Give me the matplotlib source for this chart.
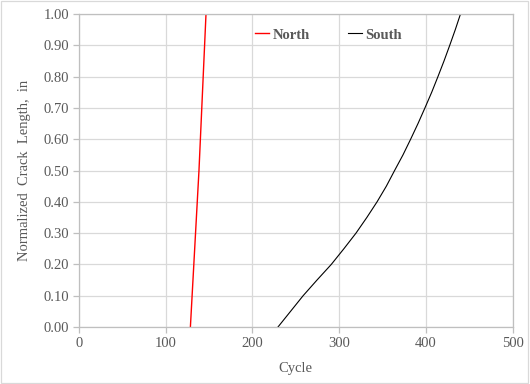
import matplotlib
matplotlib.use("Agg")
import matplotlib.pyplot as plt
from matplotlib.patches import Rectangle

# === DATA ===
north_cycle = [128.5, 138.4, 146.5]
north_len = [0.0, 0.5, 1.0]

south_cycle = [229.5, 244, 258.5, 274.5, 291, 305.5, 319.5, 332, 343.8, 354.5, 364,
               373.7, 382.5, 391, 399, 406.8, 414, 421, 427.6, 434, 440]
south_len = [0.00, 0.05, 0.10, 0.15, 0.20, 0.25, 0.30, 0.35, 0.40, 0.45, 0.50,
             0.55, 0.60, 0.65, 0.70, 0.75, 0.80, 0.85, 0.90, 0.95, 1.00]

x_ticks = [0, 100, 200, 300, 400, 500]
y_ticks = [0.0, 0.1, 0.2, 0.3, 0.4, 0.5, 0.6, 0.7, 0.8, 0.9, 1.0]

# === STYLE ===
TEXT_GRAY = "#595959"
GRID_GRAY = "#d9d9d9"
FRAME_GRAY = "#bfbfbf"
FS = 10.5
plt.rcParams["font.family"] = ["Liberation Serif", "DejaVu Serif"]

fig = plt.figure(figsize=(5.30, 3.84), dpi=100)
ax = fig.add_axes([0.149, 0.1484, 0.818, 0.8151])

ax.plot(north_cycle, north_len, color="#ff0000", lw=1.0, label="North")
ax.plot(south_cycle, south_len, color="#000000", lw=0.8, label="South")

ax.set_xlim(0, 500)
ax.set_ylim(0, 1.0)
ax.set_xticks(x_ticks)
ax.set_yticks(y_ticks)
ax.set_yticklabels([f"{v:.2f}" for v in y_ticks])
ax.grid(True, color=GRID_GRAY, lw=0.9)
ax.set_axisbelow(True)

for s in ax.spines.values():
    s.set_color(FRAME_GRAY)
    s.set_linewidth(0.9)

ax.tick_params(axis="both", colors=FRAME_GRAY, labelcolor=TEXT_GRAY,
               labelsize=FS, length=4, width=0.9, direction="out", pad=3)

ax.set_xlabel("Cycle", color=TEXT_GRAY, fontsize=FS, labelpad=9)
ax.set_ylabel("Normalized  Crack  Length,  in", color=TEXT_GRAY,
              fontsize=FS, labelpad=9)

leg = ax.legend(loc="center", bbox_to_anchor=(0.575, 0.933), ncol=2,
                frameon=False, handlelength=1.0, handletextpad=0.2,
                columnspacing=2.6, prop={"weight": "bold", "size": FS})
for t in leg.get_texts():
    t.set_color(TEXT_GRAY)

# Outer chart border
fig.patches.append(Rectangle((0.002, 0.003), 0.995, 0.994, transform=fig.transFigure,
                             fill=False, edgecolor=GRID_GRAY, lw=0.9))

fig.savefig("out.png", dpi=100, facecolor="white")
